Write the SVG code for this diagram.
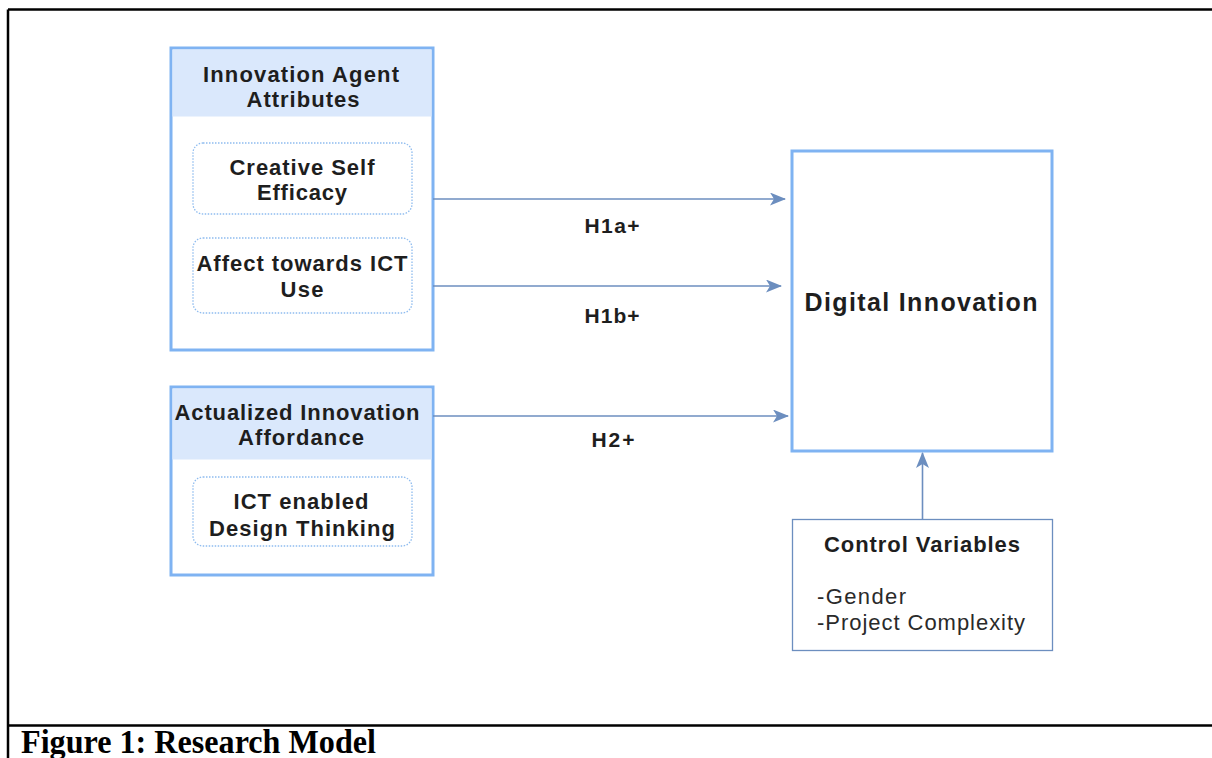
<svg xmlns="http://www.w3.org/2000/svg" width="1212" height="758" viewBox="0 0 1212 758">
<style>
.frame{stroke:#000;stroke-width:2.5;fill:none}
.outer{fill:#fff;stroke:#7fb3f2;stroke-width:3}
.hdr{fill:#dae8fc}
.inner{fill:#fff;stroke:#8fbcef;stroke-width:1.3;stroke-dasharray:1.5 1.5}
.conn{stroke:#6c8ebf;stroke-width:1.6;fill:none}
.t{font-family:"Liberation Sans",Arial,sans-serif;font-weight:bold;font-size:22px;fill:#1e1e1e;text-anchor:middle}
.tn{font-family:"Liberation Sans",Arial,sans-serif;font-size:22px;fill:#2a2a2a}
.cap{font-family:"Liberation Serif","Times New Roman",serif;font-weight:bold;font-size:33px;fill:#000}
</style>
<defs>
<marker id="ah" viewBox="0 0 16 13" refX="15" refY="6.5" markerWidth="16" markerHeight="13" markerUnits="userSpaceOnUse" orient="auto">
<path d="M0,0 L16,6.5 L0,13 L4,6.5 Z" fill="#6c8ebf"/>
</marker>
</defs>
<rect width="1212" height="758" fill="#fff"/>
<g id="frame">
<path class="frame" d="M8,9.5 H1212 M8,9.5 V758 M8,725.5 H1212"/>
<text class="cap" x="21" y="753" textLength="355" lengthAdjust="spacingAndGlyphs">Figure 1: Research Model</text>
</g>
<g id="agent">
<rect class="outer" x="171" y="48" width="262" height="302"/>
<rect class="hdr" x="172.5" y="49.5" width="259" height="67"/>
<text class="t" x="301" y="82" textLength="196">Innovation Agent</text>
<text class="t" x="303" y="107" textLength="113">Attributes</text>
</g>
<g id="cse">
<rect class="inner" x="193" y="143" width="219" height="71" rx="10"/>
<text class="t" x="302" y="175" textLength="145">Creative Self</text>
<text class="t" x="302" y="200" textLength="90">Efficacy</text>
</g>
<g id="affect">
<rect class="inner" x="193" y="238" width="219" height="75" rx="10"/>
<text class="t" x="302" y="271" textLength="211">Affect towards ICT</text>
<text class="t" x="302" y="297" textLength="43">Use</text>
</g>
<g id="afford">
<rect class="outer" x="171" y="387" width="262" height="188"/>
<rect class="hdr" x="172.5" y="388.5" width="259" height="71"/>
<text class="t" x="297" y="420" textLength="245">Actualized Innovation</text>
<text class="t" x="301" y="445" textLength="126">Affordance</text>
</g>
<g id="ict">
<rect class="inner" x="193" y="477" width="219" height="69" rx="10"/>
<text class="t" x="301" y="509" textLength="135">ICT enabled</text>
<text class="t" x="302" y="536" textLength="186">Design Thinking</text>
</g>
<g id="digital">
<rect class="outer" x="792" y="151" width="260" height="300"/>
<text class="t" x="921" y="311" style="font-size:25px" textLength="233">Digital Innovation</text>
</g>
<g id="control">
<rect x="792.5" y="519.5" width="260" height="131" fill="#fff" stroke="#6c8ebf" stroke-width="1.3"/>
<text class="t" x="922" y="552" style="font-size:22px" textLength="196">Control Variables</text>
<text class="tn" x="817" y="604" textLength="89">-Gender</text>
<text class="tn" x="817" y="630" textLength="208">-Project Complexity</text>
</g>
<g id="connectors">
<line class="conn" x1="433" y1="199" x2="785" y2="199" marker-end="url(#ah)"/>
<line class="conn" x1="433" y1="286" x2="781" y2="286" marker-end="url(#ah)"/>
<line class="conn" x1="433" y1="416" x2="788" y2="416" marker-end="url(#ah)"/>
<line class="conn" x1="922.5" y1="519" x2="922.5" y2="453" marker-end="url(#ah)"/>
<text class="t" x="612" y="233" style="font-size:21px" textLength="55">H1a+</text>
<text class="t" x="612" y="323" style="font-size:21px" textLength="55">H1b+</text>
<text class="t" x="613" y="447" style="font-size:21px" textLength="43">H2+</text>
</g>
</svg>
